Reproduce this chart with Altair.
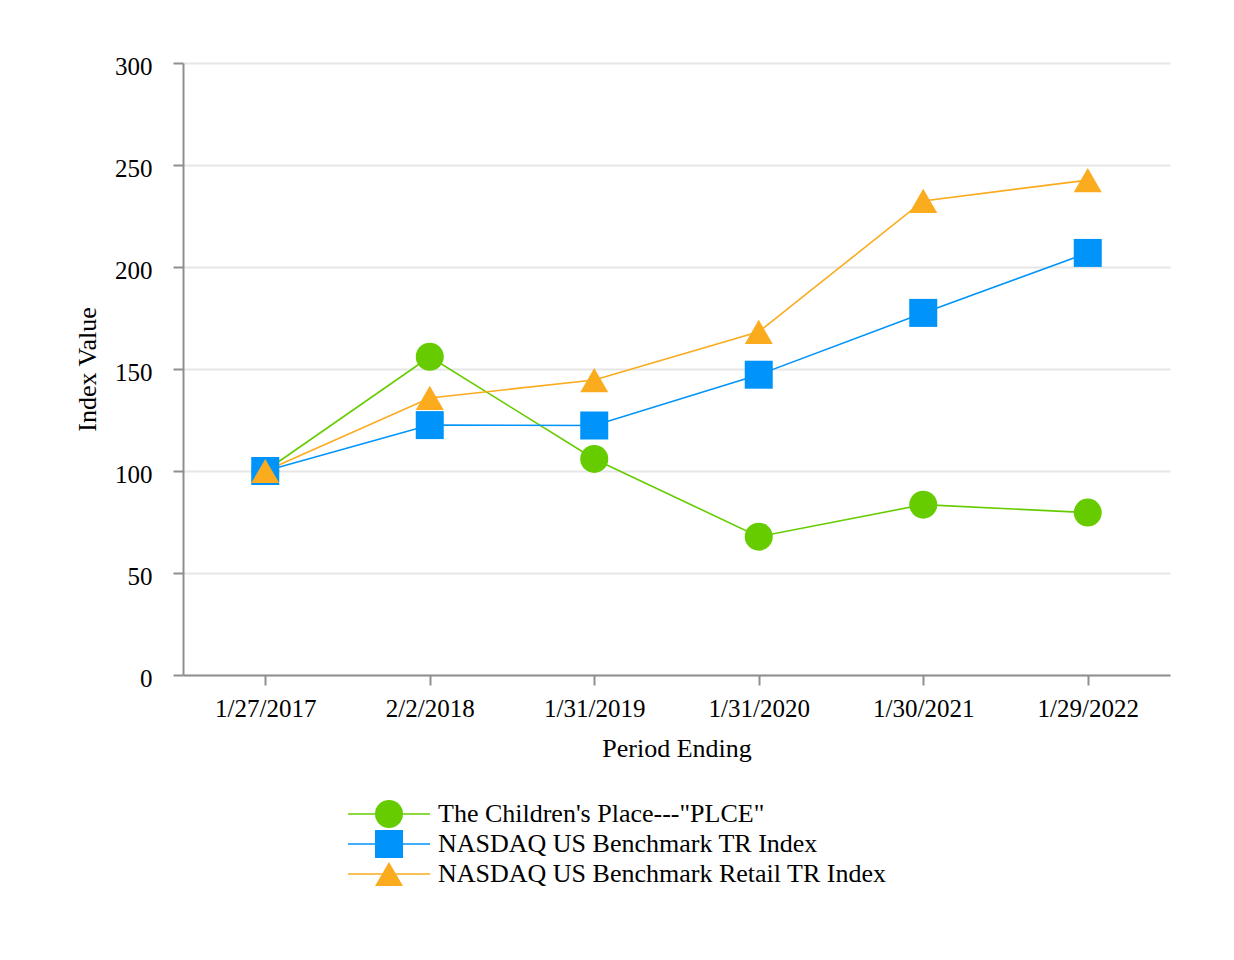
import altair as alt
import pandas as pd

periods = ["1/27/2017", "2/2/2018", "1/31/2019", "1/31/2020", "1/30/2021", "1/29/2022"]
series_names = [
    "The Children's Place---\"PLCE\"",
    "NASDAQ US Benchmark TR Index",
    "NASDAQ US Benchmark Retail TR Index",
]
plce = [100, 156.0, 105.9, 67.8, 83.5, 79.6]
nasdaq = [100, 122.5, 122.3, 147.2, 177.5, 206.9]
retail = [100, 135.8, 144.6, 168.2, 232.4, 242.6]
colors = ["#66CC00", "#0094FA", "#FAAB1E"]
shapes = ["circle", "square", "triangle-up"]

rows = []
for name, vals in zip(series_names, [plce, nasdaq, retail]):
    for p, v in zip(periods, vals):
        rows.append({"period": p, "value": v, "series": name})
df = pd.DataFrame(rows)

FONT = "Liberation Serif"

color_enc = alt.Color("series:N", scale=alt.Scale(domain=series_names, range=colors), legend=None)
shape_enc = alt.Shape("series:N", scale=alt.Scale(domain=series_names, range=shapes), legend=None)

base = alt.Chart(df).encode(
    x=alt.X(
        "period:N",
        sort=periods,
        title="Period Ending",
        axis=alt.Axis(
            labelAngle=0, labelFont=FONT, labelFontSize=25, labelColor="black",
            titleFont=FONT, titleFontSize=26, titleFontWeight="normal", titleColor="black",
            domainColor="#8f8f8f", domainWidth=2, tickColor="#8f8f8f", tickWidth=2,
            tickSize=10, labelPadding=11, titlePadding=14, grid=False,
        ),
    ),
    y=alt.Y(
        "value:Q",
        title="Index Value",
        scale=alt.Scale(domain=[0, 300], nice=False),
        axis=alt.Axis(
            values=[0, 50, 100, 150, 200, 250, 300],
            labelFont=FONT, labelFontSize=25, labelColor="black", labelOffset=3,
            titleFont=FONT, titleFontSize=26, titleFontWeight="normal", titleColor="black",
            domainColor="#8f8f8f", domainWidth=2, tickColor="#8f8f8f", tickWidth=2,
            tickSize=10, labelPadding=21, titlePadding=14,
            grid=True, gridColor="#e6e6e6", gridWidth=2,
        ),
    ),
    color=color_enc,
)

lines = base.mark_line(strokeWidth=1.6)
points = base.mark_point(filled=True, opacity=1, size=784).encode(shape=shape_enc)

main = alt.layer(lines, points).properties(width=987, height=612)

leg_df = pd.DataFrame({"series": series_names})
leg_base = alt.Chart(leg_df).encode(
    y=alt.Y("series:N", sort=series_names, axis=None,
            scale=alt.Scale(type="point", padding=0.5)),
    color=color_enc,
)
leg_line = leg_base.mark_rule(strokeWidth=1.6).encode(x=alt.value(165), x2=alt.value(247))
leg_pt = leg_base.mark_point(filled=True, opacity=1, size=784).encode(x=alt.value(206), shape=shape_enc)
leg_txt = leg_base.mark_text(align="left", baseline="middle", font=FONT, fontSize=26, color="black").encode(
    x=alt.value(255), text="series:N", color=alt.value("black")
)
legend = alt.layer(leg_line, leg_pt, leg_txt).properties(width=987, height=90)

chart = alt.vconcat(main, legend, spacing=38).properties(
    padding={"left": 66, "top": 46, "right": 10, "bottom": 10}
).configure(font=FONT).configure_view(stroke=None)

chart.save("out.html", embed_options={"renderer": "svg", "actions": False})
